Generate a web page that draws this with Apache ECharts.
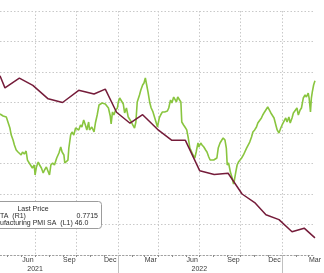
<!DOCTYPE html>
<html><head><meta charset="utf-8">
<script src="https://cdn.jsdelivr.net/npm/echarts@6/dist/echarts.min.js"></script>
<style>html,body{margin:0;padding:0;background:#fff}#c{width:324px;height:273px}</style>
</head><body><div id="c"></div>
<script>
// ---- data ----
const startDate = '2021-04-14';
const endDate = '2023-03-15';
const monthNames = ['Jan','Feb','Mar','Apr','May','Jun','Jul','Aug','Sep','Oct','Nov','Dec'];
const labelMonths = ['03','06','09','12'];
const gridMonths = ['01','04','07','10'];

// daily ratio (R1), green
const ratioDates = [
'2021-04-14','2021-04-18','2021-04-21','2021-04-25','2021-04-28','2021-05-02','2021-05-06','2021-05-09','2021-05-13','2021-05-16',
'2021-05-20','2021-05-24','2021-05-27','2021-05-31','2021-06-03','2021-06-07','2021-06-11','2021-06-14','2021-06-18','2021-06-21',
'2021-06-25','2021-06-29','2021-07-01','2021-07-04','2021-07-08','2021-07-11','2021-07-15','2021-07-19','2021-07-22','2021-07-26',
'2021-07-30','2021-08-02','2021-08-05','2021-08-09','2021-08-13','2021-08-18','2021-08-23','2021-08-27','2021-08-30','2021-09-03',
'2021-09-05','2021-09-09','2021-09-12','2021-09-14','2021-09-18','2021-09-21','2021-09-25','2021-09-29','2021-10-02','2021-10-06',
'2021-10-10','2021-10-13','2021-10-17','2021-10-20','2021-10-24','2021-10-28','2021-10-30','2021-11-04','2021-11-09','2021-11-12',
'2021-11-16','2021-11-20','2021-11-23','2021-11-27','2021-12-01','2021-12-04','2021-12-08','2021-12-11','2021-12-15','2021-12-17',
'2021-12-20','2021-12-23','2021-12-27','2021-12-31','2022-01-02','2022-01-05','2022-01-09','2022-01-13','2022-01-16','2022-01-20',
'2022-01-24','2022-01-27','2022-01-31','2022-02-03','2022-02-07','2022-02-10','2022-02-13','2022-02-18','2022-02-21','2022-02-25',
'2022-02-28','2022-03-03','2022-03-06','2022-03-09','2022-03-13','2022-03-16','2022-03-20','2022-03-24','2022-03-30','2022-04-03',
'2022-04-06','2022-04-10','2022-04-15','2022-04-21','2022-04-24','2022-04-28','2022-05-01','2022-05-05','2022-05-09','2022-05-11',
'2022-05-14','2022-05-18','2022-05-21','2022-05-23','2022-05-27','2022-05-30','2022-06-03','2022-06-06','2022-06-10','2022-06-14',
'2022-06-17','2022-06-21','2022-06-24','2022-06-28','2022-06-30','2022-07-04','2022-07-07','2022-07-11','2022-07-15','2022-07-18',
'2022-07-22','2022-07-25','2022-07-29','2022-08-02','2022-08-05','2022-08-09','2022-08-12','2022-08-16','2022-08-20','2022-08-23',
'2022-08-27','2022-08-30','2022-09-01','2022-09-04','2022-09-08','2022-09-12','2022-09-15','2022-09-17','2022-09-20','2022-09-23',
'2022-09-26','2022-09-30','2022-10-03','2022-10-07','2022-10-10','2022-10-14','2022-10-18','2022-10-21','2022-10-25','2022-10-28',
'2022-11-01','2022-11-05','2022-11-08','2022-11-12','2022-11-16','2022-11-19','2022-11-23','2022-11-26','2022-11-30','2022-12-03',
'2022-12-07','2022-12-11','2022-12-14','2022-12-18','2022-12-21','2022-12-25','2022-12-29','2023-01-01','2023-01-05','2023-01-09',
'2023-01-12','2023-01-16','2023-01-19','2023-01-23','2023-01-26','2023-01-30','2023-02-03','2023-02-06','2023-02-10','2023-02-13',
'2023-02-17','2023-02-21','2023-02-24','2023-02-28','2023-03-02','2023-03-05','2023-03-07','2023-03-09','2023-03-12','2023-03-15'
];
const ratioValues = [
0.7387,0.7397,0.7367,0.7377,0.7357,0.7338,0.7249,0.7180,0.7131,0.7082,
0.7033,0.7013,0.7023,0.6984,0.7013,0.6993,0.7023,0.6934,0.6905,0.6915,
0.6856,0.6885,0.6787,0.6866,0.6915,0.6885,0.6856,0.6807,0.6836,0.6866,
0.6856,0.6787,0.6885,0.6905,0.6885,0.6954,0.7003,0.7062,0.7013,0.6984,
0.6905,0.6895,0.6934,0.7052,0.7180,0.7210,0.7180,0.7249,0.7259,0.7230,
0.7279,0.7259,0.7328,0.7289,0.7230,0.7308,0.7230,0.7259,0.7210,0.7298,
0.7377,0.7475,0.7485,0.7495,0.7485,0.7485,0.7475,0.7446,0.7367,0.7289,
0.7407,0.7377,0.7426,0.7446,0.7505,0.7544,0.7544,0.7485,0.7397,0.7446,
0.7357,0.7338,0.7308,0.7279,0.7249,0.7308,0.7505,0.7574,0.7623,0.7672,
0.7692,0.7741,0.7672,0.7603,0.7495,0.7446,0.7407,0.7348,0.7259,0.7348,
0.7377,0.7407,0.7407,0.7416,0.7446,0.7525,0.7495,0.7554,0.7544,0.7505,
0.7554,0.7554,0.7505,0.7308,0.7279,0.7259,0.7230,0.7161,0.7052,0.7013,
0.6984,0.6954,0.7013,0.7102,0.7062,0.7102,0.7082,0.7062,0.7033,0.7013,
0.6964,0.6934,0.6915,0.6934,0.6915,0.6954,0.7052,0.7102,0.7131,0.7151,
0.7131,0.7052,0.6885,0.6905,0.6816,0.6757,0.6698,0.6738,0.6816,0.6885,
0.6915,0.6905,0.6954,0.6984,0.7003,0.7052,0.7062,0.7111,0.7161,0.7210,
0.7230,0.7259,0.7298,0.7279,0.7348,0.7377,0.7407,0.7426,0.7456,0.7446,
0.7397,0.7407,0.7348,0.7279,0.7230,0.7200,0.7249,0.7279,0.7298,0.7348,
0.7308,0.7357,0.7298,0.7348,0.7397,0.7407,0.7446,0.7377,0.7426,0.7446,
0.7544,0.7574,0.7554,0.7593,0.7544,0.7407,0.7544,0.7603,0.7672,0.7715
];

// monthly manufacturing PMI (L1), maroon
const pmiDates = [
'2021-04-14','2021-04-25','2021-05-27','2021-06-26','2021-07-30','2021-08-31','2021-10-06','2021-11-09','2021-12-04','2021-12-29',
'2022-01-28','2022-02-25','2022-03-30','2022-05-01','2022-05-31','2022-07-02','2022-08-03','2022-09-03','2022-10-04','2022-11-01',
'2022-11-26','2022-12-25','2023-01-23','2023-02-19','2023-03-15'
];
const pmiValues = [
59.7,58.7,59.5,58.9,57.8,57.5,58.5,58.2,58.6,56.7,
55.8,56.5,55.3,54.4,54.4,51.9,51.6,51.7,50.0,49.3,
48.3,47.9,46.9,47.2,46.4
];

const legendTitle = 'Last Price';
const legendRow1 = 'TA  (R1)';
const legendRow1Value = '0.7715';
const legendRow2 = 'ufacturing PMI SA  (L1) 46.0';

// ---- build daily category list for ticks / gridlines / labels ----
function fmt(d){const m=d.getUTCMonth()+1, dd=d.getUTCDate();return d.getUTCFullYear()+'-'+(m<10?'0':'')+m+'-'+(dd<10?'0':'')+dd;}
const days = [];
for (let t = Date.parse(startDate+'T00:00:00Z'); t <= Date.parse(endDate+'T00:00:00Z'); t += 86400000) days.push(fmt(new Date(t)));

const FONT = 'Liberation Sans';
const GRID_COLOR = '#c9c9c9';
const GRID_DASH = [1.5, 2];

const chart = echarts.init(document.getElementById('c'), null, {renderer:'canvas'});
chart.setOption({
  animation: false,
  backgroundColor: '#ffffff',
  grid: {left: 0, right: 0, top: 11, bottom: 18, containLabel: false},
  xAxis: [
    {type: 'time', min: startDate, max: endDate, show: false},
    {type: 'category', data: days, boundaryGap: false, position: 'bottom',
     axisLine: {show: true, lineStyle: {color: '#a0a0a0', type: GRID_DASH, width: 1}},
     axisTick: {show: true, length: 2, lineStyle: {color: '#8a8a8a'},
       interval: (i, v) => v.slice(8) === '01'},
     splitLine: {show: true, lineStyle: {color: GRID_COLOR, type: GRID_DASH, width: 1},
       interval: (i, v) => v.slice(8) === '01' && gridMonths.includes(v.slice(5,7))},
     axisLabel: {show: true, fontFamily: FONT, fontSize: 7, color: '#3a3a3a', margin: 2,
       interval: (i, v) => v.slice(8) === '15' && labelMonths.includes(v.slice(5,7)),
       formatter: v => monthNames[parseInt(v.slice(5,7),10)-1]}
    },
    {type: 'category', data: days, boundaryGap: false, position: 'bottom',
     axisLine: {show: false},
     axisTick: {show: true, length: 18, lineStyle: {color: '#c0c0c0'},
       interval: (i, v) => v.slice(5) === '01-01'},
     splitLine: {show: false},
     axisLabel: {show: true, fontFamily: FONT, fontSize: 7, color: '#3a3a3a', margin: 11,
       interval: (i, v) => v.slice(5) === '07-01',
       formatter: v => v.slice(0,4)}
    }
  ],
  yAxis: [
    {type: 'value', min: 45, max: 65, interval: 2.5, position: 'left',
     axisLine: {show: false}, axisTick: {show: false}, axisLabel: {show: false},
     splitLine: {show: true, lineStyle: {color: GRID_COLOR, type: GRID_DASH, width: 1}}},
    {type: 'value', min: 0.60, max: 0.84, interval: 0.03, position: 'right',
     axisLine: {show: false}, axisTick: {show: false}, axisLabel: {show: false},
     splitLine: {show: false}}
  ],
  series: [
    {type: 'line', name: 'Ratio (R1)', xAxisIndex: 0, yAxisIndex: 1, showSymbol: false, symbol: 'none',
     data: ratioDates.map((d, i) => [d, ratioValues[i]]),
     lineStyle: {color: '#89c53f', width: 1.6}, itemStyle: {color: '#89c53f'}},
    {type: 'line', name: 'Manufacturing PMI SA (L1)', xAxisIndex: 0, yAxisIndex: 0, showSymbol: false, symbol: 'none',
     data: pmiDates.map((d, i) => [d, pmiValues[i]]),
     lineStyle: {color: '#751c3a', width: 1.5}, itemStyle: {color: '#751c3a'}}
  ],
  graphic: [
    {type: 'rect', z: 100, shape: {x: -10, y: 201.5, width: 111.5, height: 27, r: 3},
     style: {fill: '#ffffff', stroke: '#9c9c9c', lineWidth: 1}},
    {type: 'text', z: 101, x: 33, y: 209, style: {text: legendTitle, font: '7px "Liberation Sans"', fill: '#2a2a2a', align: 'center', verticalAlign: 'middle'}},
    {type: 'text', z: 101, x: 0, y: 216.5, style: {text: legendRow1, font: '7px "Liberation Sans"', fill: '#2a2a2a', align: 'left', verticalAlign: 'middle'}},
    {type: 'text', z: 101, x: 98, y: 216.5, style: {text: legendRow1Value, font: '7px "Liberation Sans"', fill: '#2a2a2a', align: 'right', verticalAlign: 'middle'}},
    {type: 'text', z: 101, x: 0, y: 223.5, style: {text: legendRow2, font: '7px "Liberation Sans"', fill: '#2a2a2a', align: 'left', verticalAlign: 'middle'}}
  ]
});
</script>
</body></html>
